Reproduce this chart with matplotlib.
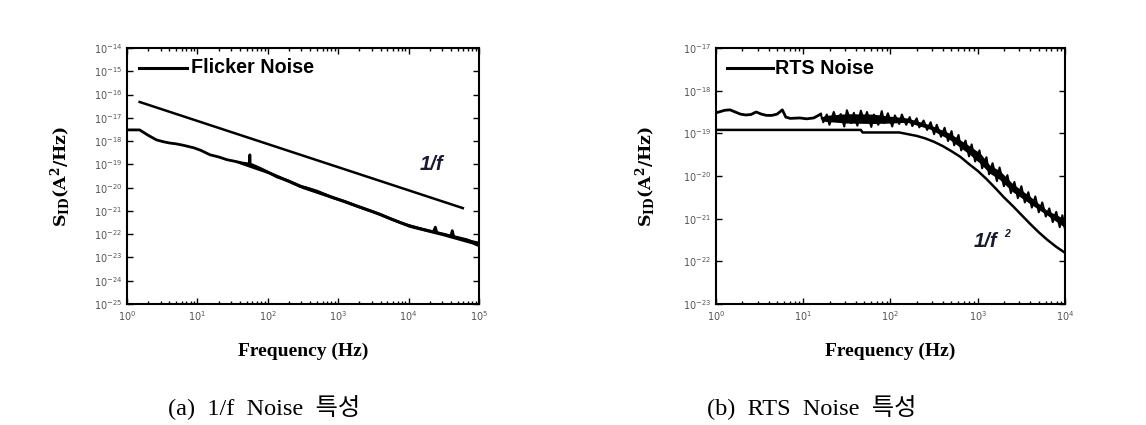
import numpy as np
import matplotlib.pyplot as plt
from matplotlib.ticker import LogLocator, NullLocator, LogFormatterMathtext

plt.rcParams["mathtext.fontset"] = "dejavuserif"

# ---------------------------------------------------------------------------
# Data (log10 values)
# ---------------------------------------------------------------------------

# (a) flicker noise: measured spectrum (centre trace, with its spikes)
flicker_logf = [
    0.00, 0.18, 0.30, 0.42, 0.52, 0.60, 0.70, 0.80, 0.95, 1.05, 1.18, 1.30,
    1.42, 1.55, 1.65, 1.74, 1.745, 1.75, 1.78, 1.90, 2.00, 2.13, 2.30, 2.46,
    2.53, 2.70, 2.93, 3.10, 3.25, 3.41, 3.60, 3.75, 3.88, 4.00, 4.15, 4.35,
    4.38, 4.40, 4.50, 4.60, 4.62, 4.64, 4.75, 4.83, 4.92, 5.00,
]
flicker_logS = [
    -17.52, -17.52, -17.75, -17.95, -18.03, -18.08, -18.12, -18.18, -18.29,
    -18.40, -18.59, -18.68, -18.80, -18.88, -18.95, -18.98, -18.59, -19.00,
    -19.02, -19.18, -19.33, -19.54, -19.72, -19.95, -19.99, -20.15, -20.44,
    -20.60, -20.78, -20.95, -21.15, -21.35, -21.50, -21.62, -21.75, -21.90,
    -21.70, -21.93, -22.00, -22.08, -21.85, -22.10, -22.18, -22.24, -22.35,
    -22.45,
]
# (a) noise band around the trace
flicker_band_logf = [1.50, 1.60, 2.00, 2.50, 3.00, 3.50, 4.00, 4.50, 4.90, 5.00]
flicker_band_lo = [-18.86, -18.98, -19.40, -20.05, -20.56, -21.10, -21.70,
                   -22.08, -22.42, -22.55]
flicker_band_hi = [-18.84, -18.86, -19.26, -19.90, -20.42, -20.96, -21.56,
                   -21.94, -22.24, -22.30]
# (a) 1/f reference line end points
oneoverf_logf = [0.18, 4.77]
oneoverf_logS = [-16.32, -20.88]

# (b) RTS noise: quiet low-frequency part of the trace
rts_logf = [
    0.00, 0.05, 0.10, 0.16, 0.22, 0.28, 0.34, 0.40, 0.46, 0.52, 0.58, 0.64,
    0.70, 0.76, 0.80, 0.85, 0.96, 1.04, 1.12, 1.20,
]
rts_logS = [
    -18.52, -18.49, -18.46, -18.45, -18.50, -18.55, -18.57, -18.56, -18.50,
    -18.55, -18.58, -18.58, -18.55, -18.45, -18.62, -18.65, -18.64, -18.66,
    -18.64, -18.55,
]
# (b) noisy part of the trace: peaks and troughs
rts_noise_logf = [
    1.20, 1.23, 1.27, 1.30, 1.35, 1.38, 1.43, 1.47, 1.50, 1.55, 1.58, 1.62,
    1.66, 1.70, 1.73, 1.78, 1.81, 1.86, 1.90, 1.93, 1.97, 2.02, 2.05, 2.10,
    2.13, 2.18, 2.22, 2.25, 2.30, 2.33, 2.38, 2.42, 2.46, 2.50, 2.53, 2.58,
    2.62, 2.66, 2.70, 2.73, 2.78, 2.81, 2.86, 2.90, 2.93, 2.97, 3.02, 3.05,
    3.10, 3.13, 3.17, 3.22, 3.25, 3.30, 3.34, 3.38, 3.42, 3.46, 3.50, 3.54,
    3.58, 3.62, 3.66, 3.70, 3.74, 3.78, 3.82, 3.86, 3.90, 3.94, 3.97, 4.00,
]
rts_noise_logS = [
    -18.55, -18.74, -18.56, -18.80, -18.50, -18.70, -18.55, -18.84, -18.46,
    -18.76, -18.52, -18.82, -18.47, -18.72, -18.50, -18.85, -18.56, -18.80,
    -18.48, -18.76, -18.53, -18.84, -18.58, -18.78, -18.56, -18.80, -18.62,
    -18.83, -18.65, -18.86, -18.70, -18.92, -18.74, -19.02, -18.80, -19.08,
    -18.87, -19.18, -18.95, -19.28, -19.04, -19.40, -19.17, -19.54, -19.26,
    -19.66, -19.40, -19.82, -19.56, -19.96, -19.70, -20.12, -19.80, -20.24,
    -19.98, -20.40, -20.14, -20.52, -20.24, -20.62, -20.38, -20.74, -20.48,
    -20.85, -20.62, -20.95, -20.76, -21.08, -20.84, -21.20, -20.92, -21.25,
]
# (b) dense core of the noise band
rts_band_logf = [1.19, 1.25, 1.50, 1.80, 2.00, 2.19, 2.45, 2.68, 2.91, 3.03,
                 3.14, 3.25, 3.40, 3.60, 3.79, 3.98, 4.00]
rts_band_lo = [-18.64, -18.72, -18.76, -18.77, -18.76, -18.74, -18.90, -19.15,
               -19.50, -19.71, -19.94, -20.08, -20.37, -20.65, -20.91, -21.18,
               -21.20]
rts_band_hi = [-18.64, -18.58, -18.54, -18.55, -18.60, -18.64, -18.80, -19.00,
               -19.30, -19.47, -19.75, -19.87, -20.18, -20.48, -20.80, -20.99,
               -21.02]
# (b) Lorentzian (1/f^2) reference curve
lor_logf = [0.0, 0.5, 1.0, 1.66, 1.68, 2.1, 2.3, 2.4, 2.5, 2.6, 2.7, 2.8,
            2.9, 3.0, 3.1, 3.2, 3.3, 3.4, 3.5, 3.6, 3.7, 3.8, 3.9, 4.0]
lor_logS = [-18.92, -18.92, -18.92, -18.92, -18.98, -18.98, -19.06, -19.12,
            -19.20, -19.30, -19.42, -19.55, -19.72, -19.88, -20.07, -20.28,
            -20.50, -20.70, -20.91, -21.12, -21.32, -21.50, -21.66, -21.80]


def to_lin(vals):
    return [10.0 ** v for v in vals]


# ---------------------------------------------------------------------------
# Figure
# ---------------------------------------------------------------------------
fig = plt.figure(figsize=(11.46, 4.25), dpi=100)
ax1 = fig.add_axes([0.1108, 0.2847, 0.3072, 0.6024])
ax2 = fig.add_axes([0.6248, 0.2847, 0.3045, 0.6024])

serif = "Liberation Serif"
tick_col = "#555555"
note_col = "#1a1a2e"


def style_axis(ax, xlim, ylim, ylab_x):
    ax.set_xscale("log")
    ax.set_yscale("log")
    ax.set_xlim(*xlim)
    ax.set_ylim(*ylim)
    ax.xaxis.set_major_locator(LogLocator(base=10, numticks=20))
    ax.xaxis.set_minor_locator(LogLocator(base=10, subs=np.arange(2, 10), numticks=50))
    ax.yaxis.set_major_locator(LogLocator(base=10, numticks=20))
    ax.yaxis.set_minor_locator(NullLocator())
    ax.xaxis.set_major_formatter(LogFormatterMathtext())
    ax.yaxis.set_major_formatter(LogFormatterMathtext())
    ax.tick_params(which="both", direction="in", top=True, right=True,
                   labelsize=7, labelcolor=tick_col, width=1.0)
    ax.tick_params(which="major", length=4)
    ax.tick_params(which="minor", length=2)
    for s in ax.spines.values():
        s.set_linewidth(1.5)
    ax.set_xlabel("Frequency (Hz)", family=serif, fontweight="bold",
                  fontsize=14)
    ax.xaxis.set_label_coords(0.5, -0.15)
    ax.set_ylabel(r"$\mathbf{S_{ID}(A^2/Hz)}$", fontsize=12.5)
    ax.yaxis.set_label_coords(ylab_x, 0.5)


# (a)
style_axis(ax1, (1, 1e5), (1e-25, 1e-14), -0.153)
ax1.plot(to_lin(oneoverf_logf), to_lin(oneoverf_logS), color="black", lw=1.8)
ax1.fill_between(to_lin(flicker_band_logf), to_lin(flicker_band_lo),
                 to_lin(flicker_band_hi), color="black", lw=0)
ax1.plot(to_lin(flicker_logf), to_lin(flicker_logS), color="black", lw=2.0)
ax1.plot([1.48, 7.1], [10 ** -14.86] * 2, color="black", lw=2.2)
ax1.text(8.2, 10 ** -14.86, "Flicker Noise", family="Liberation Sans",
         fontweight="bold", fontsize=14.2, va="center", ha="left")
ax1.text(10 ** 4.16, 10 ** -19.02, "1/f", family="Liberation Sans",
         fontweight="bold", style="italic", fontsize=14.5, color=note_col,
         va="center", ha="left")

# (b)
style_axis(ax2, (1, 1e4), (1e-23, 1e-17), -0.166)
ax2.plot(to_lin(lor_logf), to_lin(lor_logS), color="black", lw=1.8)
ax2.fill_between(to_lin(rts_band_logf), to_lin(rts_band_lo),
                 to_lin(rts_band_hi), color="black", lw=0)
ax2.plot(to_lin(rts_logf), to_lin(rts_logS), color="black", lw=2.0)
ax2.plot(to_lin(rts_noise_logf), to_lin(rts_noise_logS), color="black", lw=1.5)
ax2.plot([1.34, 4.5], [10 ** -17.47] * 2, color="black", lw=2.2)
ax2.text(4.7, 10 ** -17.47, "RTS Noise", family="Liberation Sans",
         fontweight="bold", fontsize=14.2, va="center", ha="left")
ax2.text(10 ** 2.95, 10 ** -21.54, "1/f", family="Liberation Sans",
         fontweight="bold", style="italic", fontsize=14.5, color=note_col,
         va="center", ha="left")
ax2.text(10 ** 3.30, 10 ** -21.36, "2", family="Liberation Sans",
         fontweight="bold", style="italic", fontsize=7.5, color=note_col,
         va="center", ha="left")

# captions
cap_font = ["Liberation Serif", "Noto Sans CJK KR"]
fig.text(0.2304, 0.04, "(a)  1/f  Noise  특성", family=cap_font,
         fontsize=17.5, ha="center", va="center")
fig.text(0.7086, 0.04, "(b)  RTS  Noise  특성", family=cap_font,
         fontsize=17.5, ha="center", va="center")

fig.savefig("out.png", dpi=100)
